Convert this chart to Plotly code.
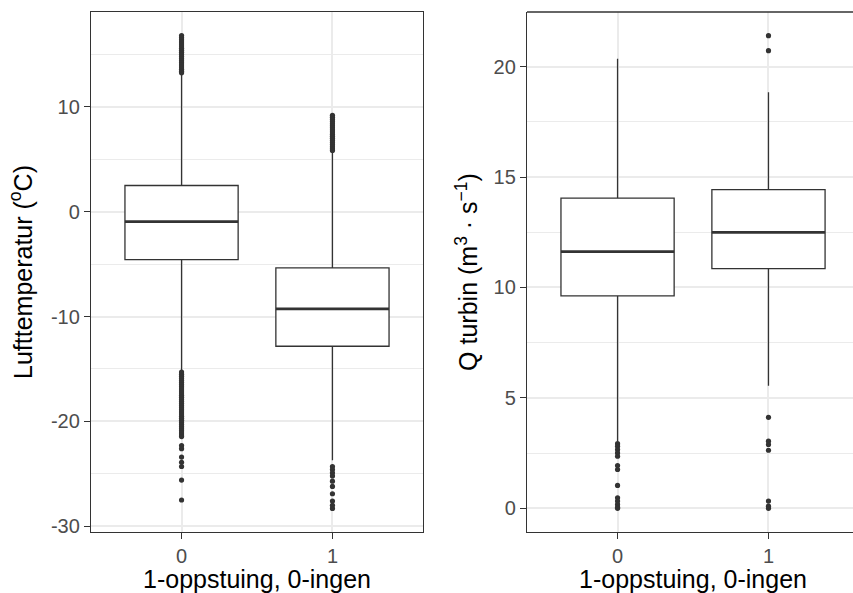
import plotly.graph_objects as go

# Groups: 1 = oppstuing, 0 = ingen
groups = [0, 1]
group_labels = ["0", "1"]

# Lufttemperatur box statistics (°C)
temp_q1 = [-4.57, -12.83]
temp_median = [-0.95, -9.27]
temp_q3 = [2.50, -5.36]
temp_lower = [-15.10, -23.70]
temp_upper = [13.10, 5.70]

temp_out_0 = [16.8, 16.6, 16.4, 16.2, 16.0, 15.8, 15.6, 15.4, 15.2, 15.0, 14.8,
              14.6, 14.4, 14.2, 14.0, 13.8, 13.6, 13.4, 13.25,
              -15.3, -15.5, -15.7, -15.9, -16.1, -16.3, -16.5, -16.7, -16.9,
              -17.1, -17.3, -17.5, -17.7, -17.9, -18.1, -18.3, -18.5, -18.7,
              -18.9, -19.1, -19.3, -19.5, -19.7, -19.9, -20.1, -20.3, -20.5,
              -20.7, -20.9, -21.1, -21.3, -21.45,
              -22.3, -22.6, -23.4, -23.9, -24.3, -25.6, -27.5]
temp_out_1 = [9.2, 9.0, 8.8, 8.6, 8.4, 8.2, 8.0, 7.8, 7.6, 7.4, 7.2, 7.0, 6.8,
              6.6, 6.4, 6.2, 6.0, 5.85,
              -24.3, -24.6, -24.9, -25.2, -25.7, -26.2, -26.9, -27.6, -28.0,
              -28.3]

# Q turbin box statistics (m3/s)
q_q1 = [9.62, 10.85]
q_median = [11.62, 12.49]
q_q3 = [14.04, 14.43]
q_lower = [3.04, 5.55]
q_upper = [20.35, 18.84]

q_out_0 = [2.93, 2.81, 2.66, 2.51, 2.36, 1.94, 1.76, 1.04, 0.48, 0.33, 0.18,
           0.05, 0.0]
q_out_1 = [21.4, 20.72, 4.12, 3.04, 2.89, 2.63, 0.33, 0.10, 0.0]

BOX_W = 0.75
INK = "#333333"
GRID = "#EBEBEB"
FONT = "Liberation Sans, Arial, sans-serif"

fig = go.Figure()


def add_panel(xa, ya, q1, med, q3, lo, hi, out0, out1):
    fig.add_trace(go.Box(
        x=groups, q1=q1, median=med, q3=q3, lowerfence=lo, upperfence=hi,
        width=BOX_W, whiskerwidth=0, fillcolor="white", boxpoints=False,
        line=dict(color=INK, width=1.3), xaxis=xa, yaxis=ya,
        hoverinfo="skip", showlegend=False))
    # thicker median bars
    mx, my = [], []
    for g, m in zip(groups, med):
        mx += [g - BOX_W / 2, g + BOX_W / 2, None]
        my += [m, m, None]
    fig.add_trace(go.Scatter(
        x=mx, y=my, mode="lines", line=dict(color=INK, width=2.8),
        xaxis=xa, yaxis=ya, hoverinfo="skip", showlegend=False))
    ox = [groups[0]] * len(out0) + [groups[1]] * len(out1)
    fig.add_trace(go.Scatter(
        x=ox, y=out0 + out1, mode="markers",
        marker=dict(color=INK, size=5.2, line=dict(width=0)),
        xaxis=xa, yaxis=ya, hoverinfo="skip", showlegend=False))


add_panel("x", "y", temp_q1, temp_median, temp_q3, temp_lower, temp_upper,
          temp_out_0, temp_out_1)
add_panel("x2", "y2", q_q1, q_median, q_q3, q_lower, q_upper,
          q_out_0, q_out_1)

tickfont = dict(family=FONT, size=20, color="#4D4D4D")
titlefont = dict(family=FONT, size=25, color="black")

xcommon = dict(tickvals=groups, ticktext=group_labels, showgrid=True,
               gridcolor=GRID, gridwidth=2, zeroline=False, ticks="outside",
               ticklen=6, tickwidth=1.2, tickcolor=INK, showline=True,
               linecolor=INK, linewidth=1.3, tickfont=tickfont)
ycommon = dict(showgrid=True, gridcolor=GRID, gridwidth=2, zeroline=False,
               ticks="outside", ticklen=6, tickwidth=1.2, tickcolor=INK,
               showline=True, linecolor=INK, linewidth=1.3, tickfont=tickfont)

fig.update_layout(
    width=853, height=593,
    margin=dict(l=0, r=0, t=12, b=61),
    paper_bgcolor="white", plot_bgcolor="white",
    font=dict(family=FONT),
    xaxis=dict(domain=[91 / 853, 423 / 853], range=[-0.6, 1.6], mirror=True,
               anchor="y", **xcommon),
    yaxis=dict(range=[-30.55, 19.05], tickvals=[-30, -20, -10, 0, 10],
               ticktext=["-30", "-20", "-10", "0", "10"], mirror=True,
               minor=dict(showgrid=True, gridcolor=GRID, gridwidth=1,
                          tickvals=[-25, -15, -5, 5, 15], ticks=""),
               title=dict(text="Lufttemperatur (<sup>o</sup>C)",
                          font=titlefont, standoff=11),
               anchor="x", **ycommon),
    xaxis2=dict(domain=[527 / 853, 1.0], range=[-0.6, 1.56], mirror=False,
                anchor="y2", **xcommon),
    yaxis2=dict(range=[-1.07, 22.47], tickvals=[0, 5, 10, 15, 20],
                minor=dict(showgrid=True, gridcolor=GRID, gridwidth=1,
                           tickvals=[2.5, 7.5, 12.5, 17.5], ticks=""),
                title=dict(text="Q turbin (m<sup>3</sup> · s<sup>−1</sup>)",
                           font=titlefont, standoff=8),
                anchor="x2", **ycommon),
)

# top border of the right panel
fig.add_shape(type="line", xref="x2 domain", yref="y2 domain",
              x0=0, x1=1, y0=1, y1=1, line=dict(color=INK, width=1.3))

for xa in ["x", "x2"]:
    fig.add_annotation(text="1-oppstuing, 0-ingen", xref=xa, yref="paper",
                       x=0.5, y=0, yanchor="top", yshift=-32, showarrow=False,
                       borderpad=0, font=titlefont)

fig.write_html("out.html")
